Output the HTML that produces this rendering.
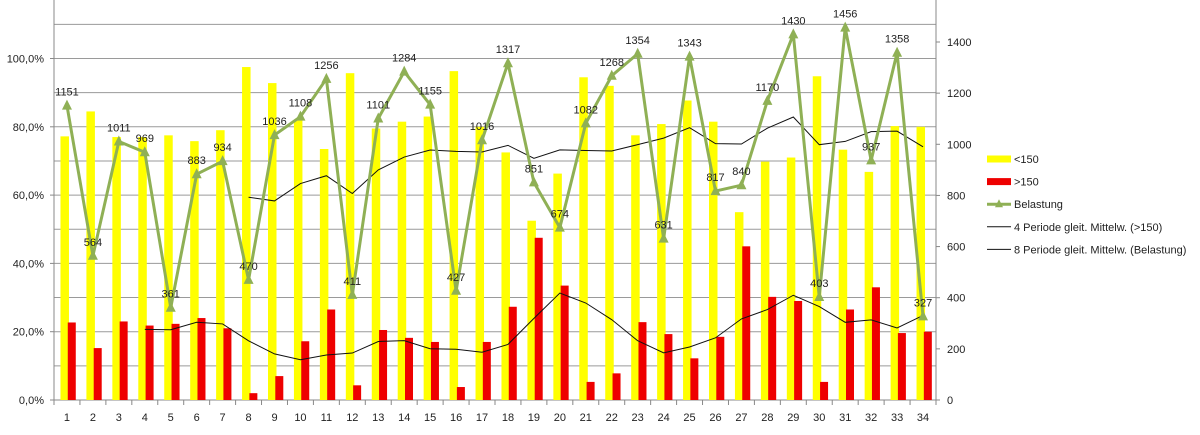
<!DOCTYPE html>
<html><head><meta charset="utf-8"><style>
html,body{margin:0;padding:0;background:#fff;}
svg text{font-family:"Liberation Sans",sans-serif;font-size:11px;fill:#222;}
</style></head><body>
<svg id="c" width="1200" height="430" xmlns="http://www.w3.org/2000/svg"></svg>
<script>
const Y=[77.2,84.5,77,77,77.5,75.8,79,97.5,92.8,82,73.5,95.7,79.5,81.5,83,96.3,80,72.5,52.5,66.3,94.5,92,77.5,80.8,87.7,81.5,55,69.8,71,94.8,73.3,66.8,80.2,80];
const R=[22.7,15.2,23,21.8,22.3,24,21,2,7,17.2,26.5,4.3,20.5,18.2,17,3.8,17,27.3,47.5,33.5,5.3,7.8,22.8,19.3,12.2,18.5,45,30.2,29,5.3,26.5,33,19.6,20];
const B=[1151,564,1011,969,361,883,934,470,1036,1108,1256,411,1101,1284,1155,427,1016,1317,851,674,1082,1268,1354,631,1343,817,840,1170,1430,403,1456,937,1358,327];
const x0=54,x1=936,y0=400,cw=(x1-x0)/34;
const py=p=>y0-p*3.415, ry=v=>y0-v*0.25571, cx=i=>x0+cw*(i+0.5);
let s='';
for(let k=1;k<=11;k++){const y=py(k*10);s+=`<line x1="${x0}" x2="${x1}" y1="${y}" y2="${y}" stroke="#9a9a9a" stroke-width="1"/>`;}
s+=`<line x1="${x0}" x2="${x0}" y1="0" y2="${y0+5}" stroke="#888"/><line x1="${x1}" x2="${x1}" y1="0" y2="${y0+5}" stroke="#888"/><line x1="${x0}" x2="${x1}" y1="${y0}" y2="${y0}" stroke="#888"/>`;
for(let k=0;k<=5;k++){const y=py(k*20);s+=`<line x1="${x0-4}" x2="${x0}" y1="${y}" y2="${y}" stroke="#888"/><text x="44" y="${y+4}" text-anchor="end">${k*20},0%</text>`;}
for(let k=0;k<=7;k++){const y=ry(k*200);s+=`<line x1="${x1}" x2="${x1+4}" y1="${y}" y2="${y}" stroke="#888"/><text x="947" y="${y+4}">${k*200}</text>`;}
for(let i=0;i<=34;i++){const x=x0+cw*i;s+=`<line x1="${x}" x2="${x}" y1="${y0}" y2="${y0+5}" stroke="#888"/>`;}
for(let i=0;i<34;i++){const c=cx(i);
s+=`<rect x="${c-6.5}" y="${py(Y[i])}" width="8.5" height="${Y[i]*3.415}" fill="#ffff00"/>`;
s+=`<rect x="${c+0.8}" y="${py(R[i])}" width="8" height="${R[i]*3.415}" fill="#ee0000"/>`;
s+=`<text x="${c}" y="421" text-anchor="middle">${i+1}</text>`;}
let p4=[];for(let i=3;i<34;i++){let m=(R[i]+R[i-1]+R[i-2]+R[i-3])/4;p4.push(cx(i)+','+py(m));}
s+=`<polyline points="${p4.join(' ')}" fill="none" stroke="#111" stroke-width="1"/>`;
let p8=[];for(let i=7;i<34;i++){let m=0;for(let j=0;j<8;j++)m+=B[i-j];m/=8;p8.push(cx(i)+','+ry(m));}
s+=`<polyline points="${p8.join(' ')}" fill="none" stroke="#111" stroke-width="1"/>`;
s+=`<polyline points="${B.map((v,i)=>cx(i)+','+ry(v)).join(' ')}" fill="none" stroke="#8fb055" stroke-width="3" stroke-linejoin="round"/>`;
B.forEach((v,i)=>{const c=cx(i),y=ry(v);s+=`<polygon points="${c},${y-6} ${c-5},${y+4} ${c+5},${y+4}" fill="#8fb055"/><text x="${c}" y="${y-10}" text-anchor="middle">${v}</text>`;});
const L=[["<150","y"],[">150","r"],["Belastung","g"],["4 Periode gleit. Mittelw. (>150)","k"],["8 Periode gleit. Mittelw. (Belastung)","k"]];
L.forEach((l,k)=>{const y=159+k*22.6;
if(l[1]=="y")s+=`<rect x="987" y="${y-3.5}" width="24" height="7" fill="#ffff00"/>`;
else if(l[1]=="r")s+=`<rect x="987" y="${y-3.5}" width="24" height="7" fill="#ee0000"/>`;
else if(l[1]=="g")s+=`<line x1="987" x2="1011" y1="${y}" y2="${y}" stroke="#8fb055" stroke-width="3"/><polygon points="999,${y-5} 995,${y+3} 1003,${y+3}" fill="#8fb055"/>`;
else s+=`<line x1="987" x2="1011" y1="${y}" y2="${y}" stroke="#111"/>`;
s+=`<text x="1014" y="${y+4}">${l[0].replace('<','&lt;').replace('>','&gt;')}</text>`;});
document.getElementById('c').innerHTML=s;
</script>
</body></html>
